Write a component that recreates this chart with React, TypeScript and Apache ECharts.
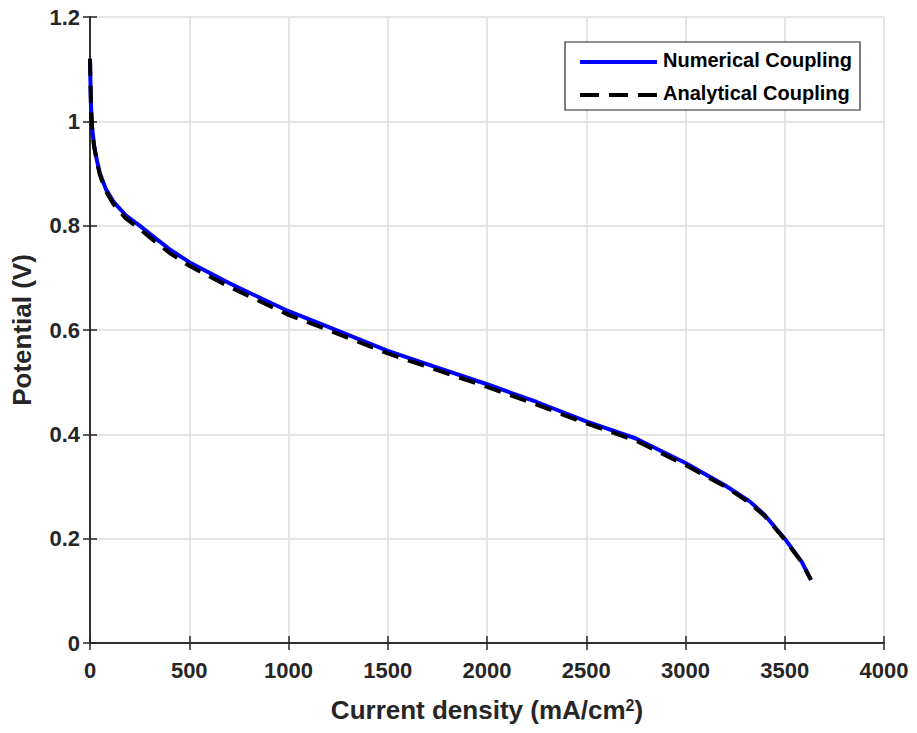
import React, { useEffect, useRef } from "react";
import * as echarts from "echarts";

const currentDensity = [0, 2, 5, 10, 20, 35, 50, 80, 120, 180, 250, 300, 400, 500, 700, 800, 1000, 1200, 1500, 1750, 2000, 2250, 2500, 2750, 3000, 3200, 3325, 3400, 3500, 3585, 3632];
const numericalV = [1.12, 1.08, 1.03, 0.99, 0.955, 0.925, 0.9, 0.87, 0.845, 0.82, 0.8, 0.785, 0.755, 0.73, 0.69, 0.672, 0.636, 0.606, 0.56, 0.528, 0.496, 0.462, 0.425, 0.392, 0.345, 0.302, 0.271, 0.245, 0.2, 0.156, 0.121];
const analyticalV = [1.12, 1.08, 1.03, 0.99, 0.953, 0.922, 0.897, 0.866, 0.84, 0.814, 0.794, 0.778, 0.748, 0.723, 0.683, 0.665, 0.629, 0.6, 0.555, 0.523, 0.491, 0.457, 0.421, 0.388, 0.341, 0.3, 0.268, 0.243, 0.198, 0.155, 0.121];

const xTicks = [0, 500, 1000, 1500, 2000, 2500, 3000, 3500, 4000];
const yTicks = [0, 0.2, 0.4, 0.6, 0.8, 1, 1.2];
const seriesNames = ["Numerical Coupling", "Analytical Coupling"];

export default function App() {
  const ref = useRef<HTMLDivElement>(null);
  useEffect(() => {
    if (!ref.current) return;
    const chart = echarts.init(ref.current, null, { renderer: "svg" });
    const font = "Liberation Sans, Arial, sans-serif";
    const tickColor = "#262626";
    const common = {
      axisLine: { show: true, lineStyle: { color: tickColor, width: 1.5 } },
      axisTick: { show: true, inside: true, length: 7, lineStyle: { color: tickColor, width: 1.5 } },
    };
    const legendText = (y: number, text: string) => ({
      type: "text",
      left: 663,
      top: y - 12,
      style: { text, fontFamily: font, fontSize: 20, fontWeight: "bold", fill: "#000" },
      z: 101,
    });
    chart.setOption({
      animation: false,
      backgroundColor: "#ffffff",
      grid: { left: 90, top: 17, right: 33, bottom: 90 },
      graphic: [
        {
          type: "rect",
          shape: { x: 565, y: 42, width: 295, height: 68 },
          style: { fill: "#ffffff", stroke: "#262626", lineWidth: 1.2 },
          z: 100,
        },
        {
          type: "line",
          shape: { x1: 580, y1: 62, x2: 657, y2: 62 },
          style: { stroke: "#0000ff", lineWidth: 4 },
          z: 101,
        },
        {
          type: "line",
          shape: { x1: 580, y1: 95, x2: 657, y2: 95 },
          style: { stroke: "#000000", lineWidth: 4, lineDash: [19, 10] },
          z: 101,
        },
        legendText(62, seriesNames[0]),
        legendText(95, seriesNames[1]),
      ],
      xAxis: [
        {
          type: "value",
          min: 0,
          max: 4000,
          interval: 500,
          name: "Current density (mA/cm{s|2})",
          nameLocation: "middle",
          nameGap: 54,
          nameTextStyle: {
            fontFamily: font,
            fontSize: 26,
            fontWeight: "bold",
            color: tickColor,
            rich: { s: { fontFamily: font, fontSize: 16, fontWeight: "bold", color: tickColor, verticalAlign: "top", padding: [0, 0, 10, 0] } },
          },
          ...common,
          axisLabel: {
            fontFamily: font,
            fontSize: 22,
            fontWeight: "bold",
            color: tickColor,
            margin: 16,
            formatter: (v: number) => (xTicks.includes(v) ? String(v) : ""),
          },
          splitLine: { show: true, lineStyle: { color: "#dcdcdc", width: 1.5 } },
        },
        {
          type: "value",
          position: "top",
          min: 0,
          max: 4000,
          interval: 500,
          ...common,
          axisLabel: { show: false },
          splitLine: { show: false },
        },
      ],
      yAxis: [
        {
          type: "value",
          min: 0,
          max: 1.2,
          interval: 0.2,
          name: "Potential (V)",
          nameLocation: "middle",
          nameGap: 55,
          nameTextStyle: { fontFamily: font, fontSize: 26, fontWeight: "bold", color: tickColor },
          ...common,
          axisLabel: {
            fontFamily: font,
            fontSize: 22,
            fontWeight: "bold",
            color: tickColor,
            margin: 10,
            formatter: (v: number) => (yTicks.includes(Math.round(v * 10) / 10) ? String(Math.round(v * 10) / 10) : ""),
          },
          splitLine: { show: true, lineStyle: { color: "#dcdcdc", width: 1.5 } },
        },
        {
          type: "value",
          position: "right",
          min: 0,
          max: 1.2,
          interval: 0.2,
          ...common,
          axisLabel: { show: false },
          splitLine: { show: false },
        },
      ],
      series: [
        {
          name: seriesNames[0],
          type: "line",
          data: currentDensity.map((x, i) => [x, numericalV[i]]),
          showSymbol: false,
          symbol: "none",
          lineStyle: { color: "#0000ff", width: 4 },
          itemStyle: { color: "#0000ff" },
          z: 2,
        },
        {
          name: seriesNames[1],
          type: "line",
          data: currentDensity.map((x, i) => [x, analyticalV[i]]),
          showSymbol: false,
          symbol: "none",
          lineStyle: { color: "#000000", width: 4, type: [17, 10] },
          itemStyle: { color: "#000000" },
          z: 3,
        },
      ],
    });
    return () => chart.dispose();
  }, []);
  return <div ref={ref} style={{ width: 917, height: 733, position: "absolute", left: 0, top: 0 }} />;
}
